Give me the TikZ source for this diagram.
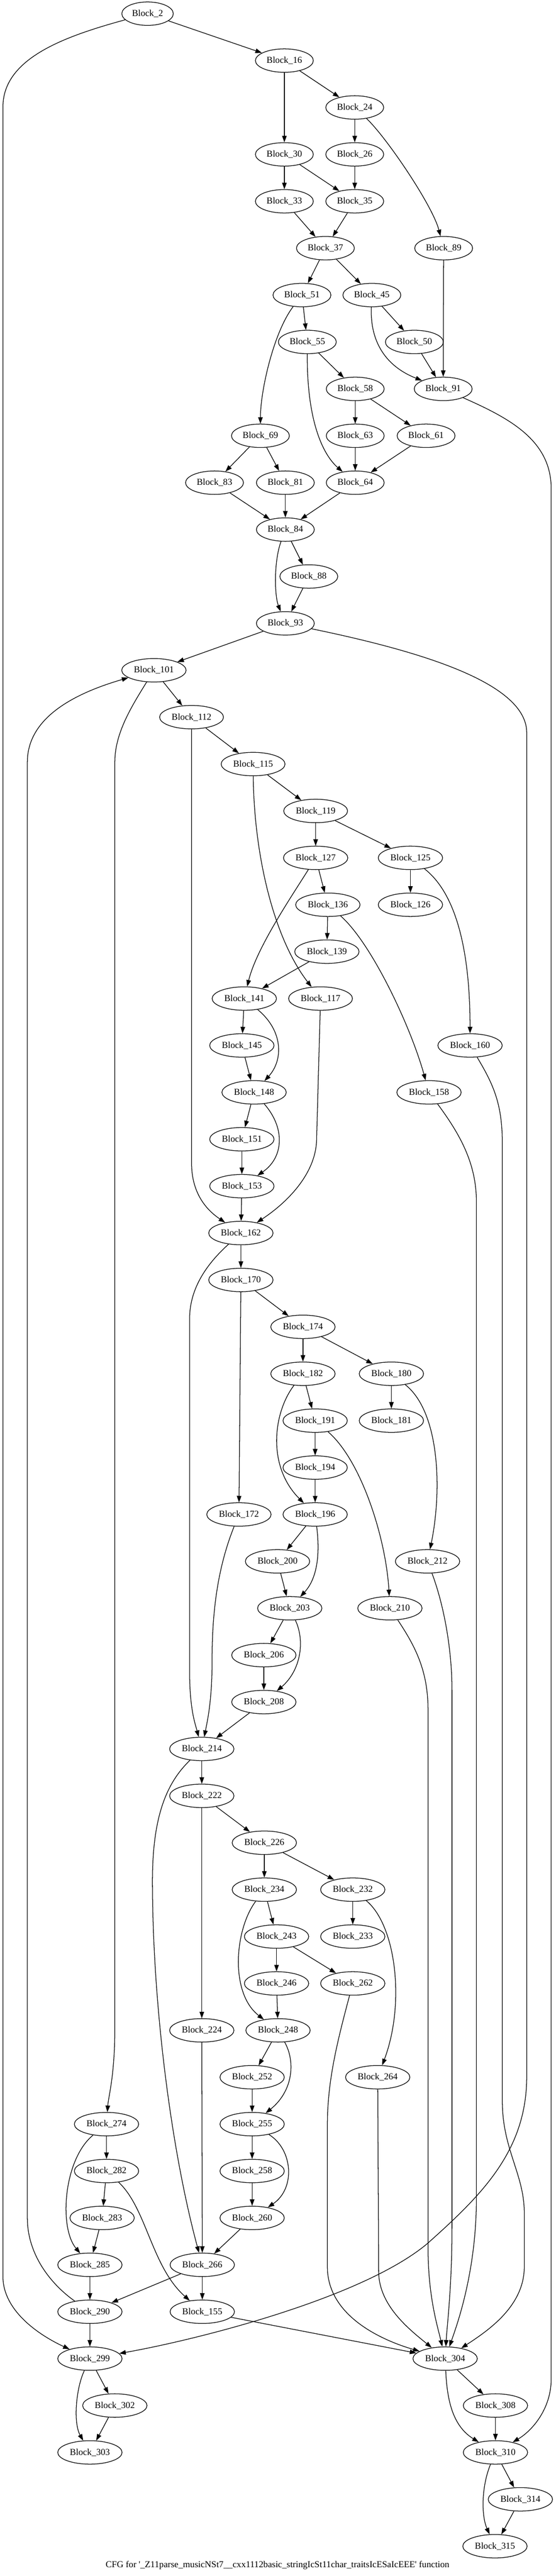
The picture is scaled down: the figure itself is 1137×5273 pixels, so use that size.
\documentclass[tikz,border=0pt]{standalone}
\usepackage{fontspec}
\setmainfont{Liberation Serif}
\usetikzlibrary{arrows.meta,shapes.geometric}

\begin{document}
\begin{tikzpicture}[x=0.75pt,y=-0.75pt,line width=1pt,
  >={Triangle[length=10pt,width=7pt]},
  block/.style={draw,ellipse,minimum height=36pt,inner xsep=4.2pt,inner ysep=2pt,font=\fontsize{14}{16}\selectfont},
  caption/.style={font=\fontsize{14}{16}\selectfont}]
\useasboundingbox (0,0) rectangle (1137,5273);

\node[block] (2) at (302,28) {Block\_2};
\node[block] (16) at (582,124) {Block\_16};
\node[block] (24) at (726,220) {Block\_24};
\node[block] (30) at (582,316) {Block\_30};
\node[block] (26) at (726,316) {Block\_26};
\node[block] (33) at (582,412) {Block\_33};
\node[block] (35) at (726,412) {Block\_35};
\node[block] (37) at (666,508) {Block\_37};
\node[block] (89) at (908,508) {Block\_89};
\node[block] (51) at (618,604) {Block\_51};
\node[block] (45) at (761,604) {Block\_45};
\node[block] (55) at (629,700) {Block\_55};
\node[block] (50) at (848,700) {Block\_50};
\node[block] (58) at (727,796) {Block\_58};
\node[block] (91) at (907,796) {Block\_91};
\node[block] (69) at (533,892) {Block\_69};
\node[block] (63) at (727,892) {Block\_63};
\node[block] (61) at (872,892) {Block\_61};
\node[block] (83) at (439,988) {Block\_83};
\node[block] (81) at (584,988) {Block\_81};
\node[block] (64) at (727,988) {Block\_64};
\node[block] (84) at (584,1084) {Block\_84};
\node[block] (88) at (632,1180) {Block\_88};
\node[block] (93) at (584,1276) {Block\_93};
\node[block] (101) at (315,1372) {Block\_101};
\node[block] (112) at (392,1468) {Block\_112};
\node[block] (115) at (518,1564) {Block\_115};
\node[block] (119) at (646,1660) {Block\_119};
\node[block] (127) at (646,1756) {Block\_127};
\node[block] (125) at (840,1756) {Block\_125};
\node[block] (136) at (671,1852) {Block\_136};
\node[block] (126) at (840,1852) {Block\_126};
\node[block] (139) at (669,1948) {Block\_139};
\node[block] (141) at (500,2044) {Block\_141};
\node[block] (117) at (656,2044) {Block\_117};
\node[block] (145) at (495,2140) {Block\_145};
\node[block] (160) at (962,2140) {Block\_160};
\node[block] (148) at (520,2236) {Block\_148};
\node[block] (158) at (878,2236) {Block\_158};
\node[block] (151) at (495,2332) {Block\_151};
\node[block] (153) at (495,2428) {Block\_153};
\node[block] (162) at (493,2524) {Block\_162};
\node[block] (170) at (493,2620) {Block\_170};
\node[block] (174) at (620,2716) {Block\_174};
\node[block] (182) at (620,2812) {Block\_182};
\node[block] (180) at (801,2812) {Block\_180};
\node[block] (191) at (645,2908) {Block\_191};
\node[block] (181) at (801,2908) {Block\_181};
\node[block] (194) at (645,3004) {Block\_194};
\node[block] (172) at (489,3100) {Block\_172};
\node[block] (196) at (645,3100) {Block\_196};
\node[block] (200) at (568,3196) {Block\_200};
\node[block] (212) at (875,3196) {Block\_212};
\node[block] (203) at (593,3292) {Block\_203};
\node[block] (210) at (798,3292) {Block\_210};
\node[block] (206) at (540,3388) {Block\_206};
\node[block] (208) at (540,3484) {Block\_208};
\node[block] (214) at (413,3580) {Block\_214};
\node[block] (222) at (413,3676) {Block\_222};
\node[block] (226) at (541,3772) {Block\_226};
\node[block] (234) at (541,3868) {Block\_234};
\node[block] (232) at (722,3868) {Block\_232};
\node[block] (243) at (566,3964) {Block\_243};
\node[block] (233) at (722,3964) {Block\_233};
\node[block] (246) at (566,4060) {Block\_246};
\node[block] (262) at (722,4060) {Block\_262};
\node[block] (224) at (413,4156) {Block\_224};
\node[block] (248) at (569,4156) {Block\_248};
\node[block] (252) at (516,4252) {Block\_252};
\node[block] (264) at (773,4252) {Block\_264};
\node[block] (274) at (218,4348) {Block\_274};
\node[block] (255) at (516,4348) {Block\_255};
\node[block] (282) at (218,4444) {Block\_282};
\node[block] (258) at (516,4444) {Block\_258};
\node[block] (283) at (209,4540) {Block\_283};
\node[block] (260) at (516,4540) {Block\_260};
\node[block] (285) at (184,4636) {Block\_285};
\node[block] (266) at (414,4636) {Block\_266};
\node[block] (290) at (184,4732) {Block\_290};
\node[block] (155) at (414,4732) {Block\_155};
\node[block] (299) at (184,4828) {Block\_299};
\node[block] (304) at (911,4828) {Block\_304};
\node[block] (302) at (235,4924) {Block\_302};
\node[block] (308) at (1014,4924) {Block\_308};
\node[block] (303) at (184,5020) {Block\_303};
\node[block] (310) at (1014,5020) {Block\_310};
\node[block] (314) at (1065,5116) {Block\_314};
\node[block] (315) at (1013,5212) {Block\_315};

\node[caption] (title) at (568,5251) {CFG for \textquotesingle\_Z11parse\_musicNSt7\_\_cxx1112basic\_stringIcSt11char\_traitsIcESaIcEEE\textquotesingle{} function};

\draw[->] (2) -- (16);
\draw[->] (2) .. controls (130,75) and (6,120) .. (6,219) -- (6,4660) .. controls (6,4730) and (80,4780) .. (299);
\draw[->] (16) -- (30);
\draw[->] (16) -- (24);
\draw[->] (24) -- (26);
\draw[->] (24) .. controls (790,280) and (885,420) .. (89);
\draw[->] (30) -- (33);
\draw[->] (30) -- (35);
\draw[->] (26) -- (35);
\draw[->] (33) -- (37);
\draw[->] (35) -- (37);
\draw[->] (37) -- (51);
\draw[->] (37) -- (45);
\draw[->] (51) -- (55);
\draw[->] (51) .. controls (560,680) and (533,800) .. (69);
\draw[->] (45) -- (50);
\draw[->] (45) .. controls (757,700) and (790,750) .. (91);
\draw[->] (89) -- (91);
\draw[->] (50) -- (91);
\draw[->] (55) -- (58);
\draw[->] (55) .. controls (628,860) and (660,930) .. (64);
\draw[->] (58) -- (63);
\draw[->] (58) -- (61);
\draw[->] (91) .. controls (1040,855) and (1128,900) .. (1128,1000) -- (1128,4870) .. controls (1128,4930) and (1090,4975) .. (310);
\draw[->] (69) -- (83);
\draw[->] (69) -- (81);
\draw[->] (63) -- (64);
\draw[->] (61) -- (64);
\draw[->] (83) -- (84);
\draw[->] (81) -- (84);
\draw[->] (64) -- (84);
\draw[->] (84) -- (88);
\draw[->] (84) .. controls (560,1150) and (562,1220) .. (93);
\draw[->] (88) -- (93);
\draw[->] (93) -- (101);
\draw[->] (93) .. controls (870,1335) and (1078,1400) .. (1078,1500) -- (1078,4250) .. controls (1078,4400) and (990,4490) .. (874,4593) .. controls (740,4705) and (400,4790) .. (299);
\draw[->] (101) -- (112);
\draw[->] (101) .. controls (270,1445) and (235,1500) .. (235,1560) -- (235,4150) .. controls (235,4250) and (222,4290) .. (274);
\draw[->] (112) -- (115);
\draw[->] (112) -- (392,2380) .. controls (392,2440) and (420,2475) .. (162);
\draw[->] (115) -- (119);
\draw[->] (115) .. controls (520,1750) and (560,1920) .. (117);
\draw[->] (119) -- (127);
\draw[->] (119) -- (125);
\draw[->] (127) -- (136);
\draw[->] (127) .. controls (600,1830) and (525,1940) .. (141);
\draw[->] (125) -- (126);
\draw[->] (125) .. controls (935,1830) and (962,1950) .. (160);
\draw[->] (136) -- (139);
\draw[->] (136) .. controls (760,1930) and (840,2100) .. (158);
\draw[->] (139) -- (141);
\draw[->] (141) -- (145);
\draw[->] (141) .. controls (580,2110) and (580,2170) .. (148);
\draw[->] (145) -- (148);
\draw[->] (117) -- (648,2330) .. controls (648,2400) and (590,2460) .. (162);
\draw[->] (148) -- (151);
\draw[->] (148) .. controls (585,2310) and (580,2370) .. (153);
\draw[->] (151) -- (153);
\draw[->] (153) -- (162);
\draw[->] (160) .. controls (1010,2220) and (1028,2260) .. (1028,2340) -- (1028,4300) .. controls (1028,4400) and (1073,4450) .. (1073,4530) -- (1073,4640) .. controls (1073,4720) and (1000,4770) .. (304);
\draw[->] (158) .. controls (940,2320) and (975,2380) .. (975,2460) -- (975,4500) .. controls (975,4650) and (935,4760) .. (304);
\draw[->] (162) -- (170);
\draw[->] (162) .. controls (420,2590) and (388,2640) .. (388,2700) -- (388,3420) .. controls (388,3500) and (400,3530) .. (214);
\draw[->] (170) -- (172);
\draw[->] (170) -- (174);
\draw[->] (174) -- (182);
\draw[->] (174) -- (180);
\draw[->] (182) -- (191);
\draw[->] (182) .. controls (560,2890) and (545,3000) .. (196);
\draw[->] (180) -- (181);
\draw[->] (180) .. controls (900,2890) and (905,3050) .. (212);
\draw[->] (191) -- (194);
\draw[->] (191) .. controls (740,2990) and (790,3150) .. (210);
\draw[->] (194) -- (196);
\draw[->] (172) .. controls (445,3210) and (434,3300) .. (434,3400) .. controls (434,3480) and (425,3520) .. (214);
\draw[->] (196) -- (200);
\draw[->] (196) .. controls (655,3180) and (650,3230) .. (203);
\draw[->] (200) -- (203);
\draw[->] (212) .. controls (910,3290) and (925,3380) .. (925,3460) -- (925,4560) .. controls (925,4680) and (915,4760) .. (304);
\draw[->] (210) .. controls (850,3370) and (876,3420) .. (876,3500) -- (876,4600) .. controls (876,4700) and (895,4760) .. (304);
\draw[->] (203) -- (206);
\draw[->] (203) .. controls (625,3360) and (615,3420) .. (208);
\draw[->] (206) -- (208);
\draw[->] (208) -- (214);
\draw[->] (214) -- (222);
\draw[->] (214) .. controls (340,3650) and (312,3720) .. (312,3850) .. controls (312,4100) and (350,4400) .. (266);
\draw[->] (222) -- (224);
\draw[->] (222) -- (226);
\draw[->] (226) -- (234);
\draw[->] (226) -- (232);
\draw[->] (234) -- (243);
\draw[->] (234) .. controls (480,3950) and (470,4080) .. (248);
\draw[->] (232) -- (233);
\draw[->] (232) .. controls (810,3940) and (830,4100) .. (264);
\draw[->] (243) -- (246);
\draw[->] (243) -- (262);
\draw[->] (246) -- (248);
\draw[->] (262) .. controls (690,4180) and (670,4260) .. (670,4350) -- (670,4640) .. controls (670,4740) and (780,4790) .. (304);
\draw[->] (224) -- (266);
\draw[->] (248) -- (252);
\draw[->] (248) .. controls (605,4220) and (600,4280) .. (255);
\draw[->] (264) -- (775,4650) .. controls (775,4720) and (840,4770) .. (304);
\draw[->] (252) -- (255);
\draw[->] (255) -- (258);
\draw[->] (255) .. controls (600,4400) and (605,4480) .. (260);
\draw[->] (258) -- (260);
\draw[->] (260) -- (266);
\draw[->] (274) -- (282);
\draw[->] (274) .. controls (130,4420) and (120,4560) .. (285);
\draw[->] (282) -- (283);
\draw[->] (282) .. controls (300,4520) and (310,4640) .. (155);
\draw[->] (283) -- (285);
\draw[->] (285) -- (290);
\draw[->] (266) -- (290);
\draw[->] (266) -- (155);
\draw[->] (290) -- (299);
\draw[->] (290) .. controls (110,4680) and (56,4620) .. (56,4540) -- (56,1560) .. controls (56,1470) and (150,1420) .. (101);
\draw[->] (155) -- (304);
\draw[->] (299) -- (302);
\draw[->] (299) .. controls (155,4890) and (150,4960) .. (303);
\draw[->] (302) -- (303);
\draw[->] (304) -- (308);
\draw[->] (304) .. controls (915,4910) and (925,4965) .. (310);
\draw[->] (308) -- (310);
\draw[->] (310) -- (314);
\draw[->] (310) .. controls (985,5090) and (985,5150) .. (315);
\draw[->] (314) -- (315);
\end{tikzpicture}
\end{document}
